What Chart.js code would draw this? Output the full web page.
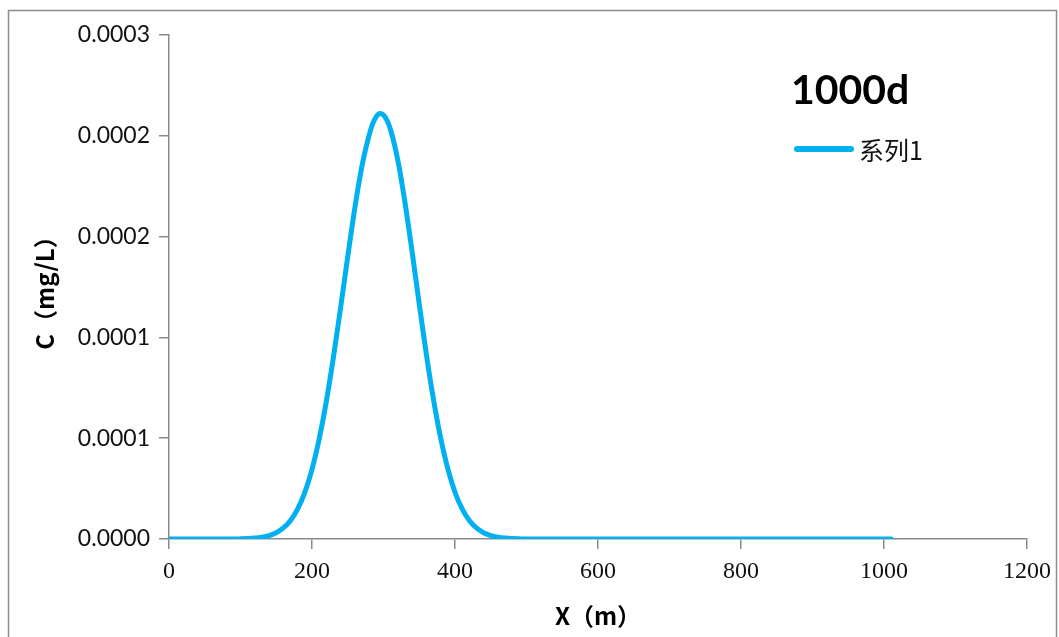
<!DOCTYPE html>
<html>
<head>
<meta charset="utf-8">
<script src="https://cdn.jsdelivr.net/npm/chart.js@4.4.1/dist/chart.umd.min.js"></script>
<style>
  html, body { margin: 0; padding: 0; background: #ffffff; }
  #wrap { position: relative; width: 1059px; height: 637px; }
  canvas { display: block; }
</style>
</head>
<body>
<div id="wrap"><canvas id="c" width="1059" height="637"></canvas></div>
<script>
// ---- data ----
const chartTitle = '1000d';
const seriesName = '系列1';
const xTitle = 'X（m）';
const yTitle = 'C（mg/L）';

const xValues = [
  0, 10, 20, 30, 40, 50, 60, 70, 80, 90,
  100, 110, 120, 130, 140, 150, 160, 170, 180, 190,
  200, 210, 220, 230, 240, 250, 260, 270, 280, 285, 290, 295,
  300, 305, 310, 320, 330, 340, 350, 360, 370, 380, 390,
  400, 410, 420, 430, 440, 450, 460, 470, 480, 490,
  500, 550, 600, 650, 700, 750, 800, 850, 900, 950, 1000, 1010
];
const cValues = [
  0, 0, 0, 0, 0, 0, 0, 0, 0, 0,
  0.0000001, 0.00000022, 0.00000046, 0.00000091, 0.0000017, 0.0000031, 0.0000055, 0.0000092, 0.0000149, 0.0000231,
  0.0000345, 0.0000495, 0.0000682, 0.0000902, 0.0001147, 0.0001401, 0.0001644, 0.0001853, 0.0002005, 0.0002060, 0.0002095, 0.0002110,
  0.0002103, 0.0002076, 0.0002029, 0.0001880, 0.0001670, 0.0001425, 0.0001165, 0.0000915, 0.0000690, 0.0000500, 0.0000348,
  0.0000232, 0.0000149, 0.0000092, 0.0000055, 0.0000031, 0.0000017, 0.0000009, 0.00000046, 0.00000022, 0.0000001,
  0, 0, 0, 0, 0, 0, 0, 0, 0, 0, 0, 0
];
const xTickValues = [0, 200, 400, 600, 800, 1000, 1200];
const yTickValues = [0, 0.00005, 0.0001, 0.00015, 0.0002, 0.00025];
const yTickLabels = ['0.0000', '0.0001', '0.0001', '0.0002', '0.0002', '0.0003'];

// ---- styling ----
const lineColor = '#00B0F0';
const axisColor = '#8a8a8a';

const points = xValues.map((x, i) => ({ x: x, y: cValues[i] }));

const decorPlugin = {
  id: 'decor',
  beforeDraw(chart) {
    const ctx = chart.ctx;
    ctx.save();
    ctx.fillStyle = '#ffffff';
    ctx.fillRect(0, 0, chart.width, chart.height);
    ctx.strokeStyle = '#8c8c8c';
    ctx.lineWidth = 1.5;
    ctx.strokeRect(8.5, 10.5, 1048, 700);
    ctx.restore();
  },
  afterDraw(chart) {
    const ctx = chart.ctx;
    const ds = chart.data.datasets[0];
    ctx.save();
    // title
    ctx.fillStyle = '#000000';
    ctx.font = 'bold 41px Lato, "Noto Sans", sans-serif';
    ctx.textBaseline = 'middle';
    ctx.textAlign = 'left';
    ctx.fillText(chartTitle, 791, 91);
    // legend
    ctx.strokeStyle = ds.borderColor;
    ctx.lineWidth = 6;
    ctx.lineCap = 'round';
    ctx.beginPath();
    ctx.moveTo(797, 149);
    ctx.lineTo(851, 149);
    ctx.stroke();
    ctx.font = '25px "Noto Sans CJK SC", sans-serif';
    ctx.fillStyle = '#111111';
    ctx.fillText(ds.label, 859, 150);
    ctx.restore();
  }
};

new Chart(document.getElementById('c'), {
  type: 'line',
  data: {
    datasets: [{
      label: seriesName,
      data: points,
      borderColor: lineColor,
      backgroundColor: lineColor,
      borderWidth: 5,
      pointRadius: 0,
      tension: 0.4,
      cubicInterpolationMode: 'monotone',
      fill: false,
      borderCapStyle: 'round',
      borderJoinStyle: 'round'
    }]
  },
  options: {
    responsive: false,
    animation: false,
    devicePixelRatio: 1,
    layout: { padding: { left: 0, top: 35, right: 32, bottom: 0 } },
    plugins: {
      legend: { display: false },
      title: { display: false },
      tooltip: { enabled: false }
    },
    scales: {
      x: {
        type: 'linear',
        min: 0,
        max: 1200,
        afterBuildTicks(scale) { scale.ticks = xTickValues.map(v => ({ value: v })); },
        afterFit(scale) { scale.height = 98; },
        border: { display: true, color: axisColor, width: 1.5 },
        grid: { display: true, drawOnChartArea: false, drawTicks: true, tickLength: 10, color: axisColor, lineWidth: 1.5 },
        ticks: {
          color: '#111111',
          padding: 8,
          maxRotation: 0,
          font: { family: '"Liberation Serif", "DejaVu Serif", serif', size: 24 },
          callback: (v) => String(v)
        },
        title: {
          display: true,
          text: xTitle,
          color: '#000000',
          font: { family: '"Noto Sans CJK SC", sans-serif', size: 24, weight: 'bold' },
          padding: { top: 0, bottom: 7 }
        }
      },
      y: {
        type: 'linear',
        min: 0,
        max: 0.00025,
        afterBuildTicks(scale) { scale.ticks = yTickValues.map(v => ({ value: v })); },
        afterFit(scale) { scale.width = 169; },
        border: { display: true, color: axisColor, width: 1.5 },
        grid: { display: true, drawOnChartArea: false, drawTicks: true, tickLength: 10, color: axisColor, lineWidth: 1.5 },
        ticks: {
          color: '#111111',
          padding: 9,
          font: { family: 'Lato, "Noto Sans", sans-serif', size: 23 },
          callback: (v, i) => yTickLabels[i]
        },
        title: {
          display: true,
          text: yTitle,
          color: '#000000',
          font: { family: '"Noto Sans CJK SC", sans-serif', size: 24, weight: 'bold' },
          padding: { top: 30, bottom: 0 }
        }
      }
    }
  },
  plugins: [decorPlugin]
});
</script>
</body>
</html>
